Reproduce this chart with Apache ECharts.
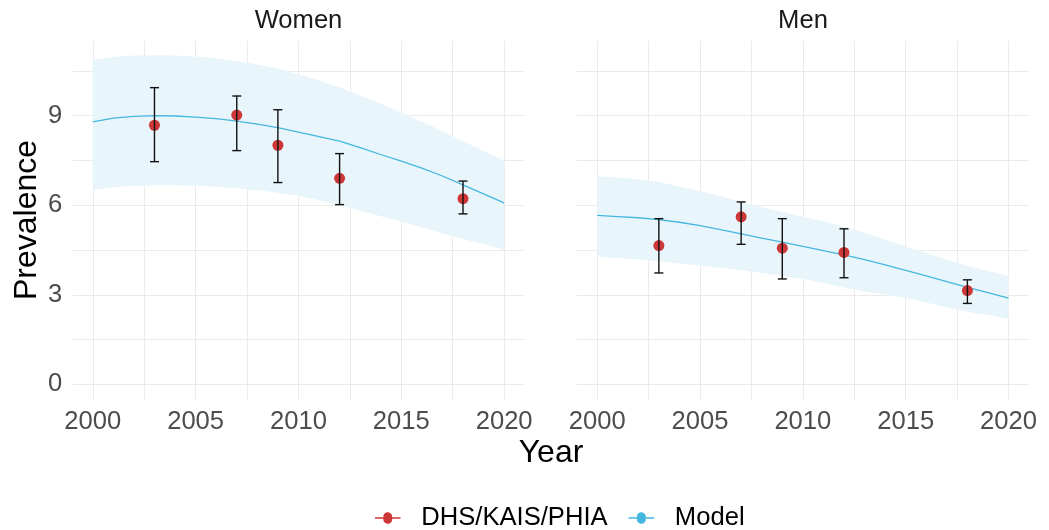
<!DOCTYPE html>
<html>
<head>
<meta charset="utf-8">
<title>Prevalence</title>
<script src="https://cdn.jsdelivr.net/npm/echarts@6/dist/echarts.min.js"></script>
<style>
	html, body { margin: 0; padding: 0; background: #fff; }
	#chart { width: 1049px; height: 530px; }
</style>
</head>
<body>
<div id="chart"></div>
<script>
// survey points (DHS/KAIS/PHIA) with 95% intervals
let surveyYears = [2003, 2007, 2009, 2012, 2018];
let womenPrev = [8.68, 9.02, 8.01, 6.90, 6.22];
let womenLow = [7.46, 7.83, 6.76, 6.02, 5.71];
let womenHigh = [9.94, 9.66, 9.20, 7.73, 6.81];
let menPrev = [4.65, 5.61, 4.56, 4.42, 3.14];
let menLow = [3.73, 4.69, 3.53, 3.57, 2.71];
let menHigh = [5.55, 6.11, 5.55, 5.21, 3.50];

// model estimate and its band
let modelYears = [2000, 2001, 2002, 2003, 2004, 2005, 2006, 2007, 2008, 2009, 2010,
	2011, 2012, 2013, 2014, 2015, 2016, 2017, 2018, 2019, 2020];
let womenModel = [8.79, 8.92, 8.98, 9.00, 8.99, 8.95, 8.90, 8.82, 8.72, 8.60, 8.45,
	8.30, 8.15, 7.93, 7.70, 7.48, 7.24, 6.98, 6.68, 6.38, 6.08];
let womenUpper = [10.87, 10.97, 11.02, 11.03, 11.02, 10.98, 10.92, 10.83, 10.72, 10.58, 10.38,
	10.18, 9.95, 9.68, 9.40, 9.10, 8.80, 8.48, 8.14, 7.82, 7.50];
let womenLower = [6.50, 6.60, 6.65, 6.67, 6.67, 6.65, 6.62, 6.57, 6.50, 6.42, 6.32,
	6.17, 6.00, 5.82, 5.63, 5.45, 5.25, 5.06, 4.87, 4.69, 4.51];
let menModel = [5.66, 5.62, 5.58, 5.52, 5.43, 5.32, 5.18, 5.04, 4.90, 4.76, 4.62,
	4.48, 4.34, 4.18, 4.00, 3.82, 3.63, 3.44, 3.25, 3.07, 2.89];
let menUpper = [6.97, 6.93, 6.87, 6.78, 6.63, 6.47, 6.30, 6.11, 5.93, 5.78, 5.61,
	5.46, 5.28, 5.08, 4.85, 4.62, 4.40, 4.18, 3.96, 3.80, 3.64];
let menLower = [4.27, 4.23, 4.18, 4.12, 4.05, 3.98, 3.90, 3.83, 3.73, 3.63, 3.53,
	3.39, 3.24, 3.11, 3.00, 2.89, 2.74, 2.58, 2.43, 2.32, 2.20];

// tick labels
let xTickLabels = [2000, 2005, 2010, 2015, 2020];
let yTickLabels = [0, 3, 6, 9];

window.onload = function() {
	let chart = echarts.init(document.getElementById('chart'));
	let font = 'Liberation Sans, Arial, sans-serif';
	let red = '#CD3737';
	let blue = '#45B7DF';
	let bandColor = '#E8F5FB';
	let gridColor = '#EBEBEB';
	let clear = 'rgba(0,0,0,0)';
	// 图例: 线 + 点
	let legendIcon = 'path://M0,9.5H6.536A3.5,3.5,0,1,1,13.464,9.5H20V10.5H13.464A3.5,3.5,0,1,1,6.536,10.5H0Z';

	function isLabel(list, v) {
		for (let i = 0; i < list.length; i++) {
			if (Math.abs(list[i] - v) < 1e-6) return true;
		}
		return false;
	}

	// ticks every 0.5 from the axis min; only every 5th (x) / 3rd (y) gets a gridline
	function xAxis(idx) {
		return {
			type: 'value', gridIndex: idx, min: 1999, max: 2021, interval: 0.5,
			axisLine: { show: false }, axisTick: { show: false },
			splitLine: { show: true, lineStyle: { color: [clear, clear, gridColor, clear, clear], width: 1 } },
			axisLabel: {
				margin: 10, color: '#4D4D4D', fontSize: 25.6, fontFamily: font,
				formatter: function(v) { return isLabel(xTickLabels, v) ? String(Math.round(v)) : ''; }
			}
		};
	}

	function yAxis(idx, showLabels) {
		return {
			type: 'value', gridIndex: idx, min: -0.5, max: 11.5, interval: 0.5,
			axisLine: { show: false }, axisTick: { show: false },
			splitLine: { show: true, lineStyle: { color: [clear, gridColor, clear], width: 1 } },
			axisLabel: {
				show: showLabels, margin: 10, color: '#4D4D4D', fontSize: 25.6, fontFamily: font,
				formatter: function(v) { return isLabel(yTickLabels, v) ? String(Math.round(v)) : ''; }
			}
		};
	}

	function bandSeries(idx, lower, upper) {
		return {
			type: 'custom', xAxisIndex: idx, yAxisIndex: idx, silent: true, z: 1,
			data: [[modelYears[0], lower[0]]],
			renderItem: function(params, api) {
				let pts = [];
				for (let i = 0; i < modelYears.length; i++) pts.push(api.coord([modelYears[i], upper[i]]));
				for (let i = modelYears.length - 1; i >= 0; i--) pts.push(api.coord([modelYears[i], lower[i]]));
				return { type: 'polygon', shape: { points: pts }, style: { fill: bandColor } };
			}
		};
	}

	function modelSeries(idx, values) {
		return {
			name: 'Model', type: 'line', xAxisIndex: idx, yAxisIndex: idx, z: 2,
			data: modelYears.map(function(y, i) { return [y, values[i]]; }),
			showSymbol: false, symbol: 'circle', color: blue,
			lineStyle: { color: blue, width: 1.3 }
		};
	}

	function pointSeries(idx, values) {
		return {
			name: 'DHS/KAIS/PHIA', type: 'scatter', xAxisIndex: idx, yAxisIndex: idx, z: 3,
			data: surveyYears.map(function(y, i) { return [y, values[i]]; }),
			symbolSize: 11, itemStyle: { color: red, opacity: 1 }
		};
	}

	function errorSeries(idx, low, high) {
		return {
			type: 'custom', xAxisIndex: idx, yAxisIndex: idx, silent: true, z: 4,
			data: surveyYears.map(function(y, i) { return [y, low[i], high[i]]; }),
			renderItem: function(params, api) {
				let top = api.coord([api.value(0), api.value(2)]);
				let bot = api.coord([api.value(0), api.value(1)]);
				let hw = 4.5;
				let st = { stroke: '#111', lineWidth: 1.4 };
				return {
					type: 'group',
					children: [
						{ type: 'line', shape: { x1: top[0], y1: top[1], x2: bot[0], y2: bot[1] }, style: st },
						{ type: 'line', shape: { x1: top[0] - hw, y1: top[1], x2: top[0] + hw, y2: top[1] }, style: st },
						{ type: 'line', shape: { x1: bot[0] - hw, y1: bot[1], x2: bot[0] + hw, y2: bot[1] }, style: st }
					]
				};
			}
		};
	}

	let option = {
		backgroundColor: '#fff',
		animation: false,
		grid: [
			{ left: 72.2, top: 41.1, width: 452.5, height: 358.1 },
			{ left: 576.6, top: 41.1, width: 452.5, height: 358.1 }
		],
		xAxis: [xAxis(0), xAxis(1)],
		yAxis: [yAxis(0, true), yAxis(1, false)],
		legend: {
			left: 370, top: 500, itemWidth: 33, itemHeight: 11.5, itemGap: 21,
			textStyle: { fontSize: 25.6, fontFamily: font, color: '#000', padding: [0, 0, 0, 12] },
			data: [
				{ name: 'DHS/KAIS/PHIA', icon: legendIcon, itemStyle: { color: red, opacity: 1 } },
				{ name: 'Model', icon: legendIcon, itemStyle: { color: blue, opacity: 1 } }
			]
		},
		graphic: [
			{ type: 'text', x: 298.5, y: 21, style: { text: 'Women', font: '25.6px ' + font, fill: '#1A1A1A', textAlign: 'center', textVerticalAlign: 'middle' } },
			{ type: 'text', x: 803, y: 21, style: { text: 'Men', font: '25.6px ' + font, fill: '#1A1A1A', textAlign: 'center', textVerticalAlign: 'middle' } },
			{ type: 'text', x: 551, y: 453, style: { text: 'Year', font: '32px ' + font, fill: '#000', textAlign: 'center', textVerticalAlign: 'middle' } },
			{ type: 'text', x: 27, y: 220, rotation: Math.PI / 2, style: { text: 'Prevalence', font: '32px ' + font, fill: '#000', textAlign: 'center', textVerticalAlign: 'middle' } }
		],
		series: [
			bandSeries(0, womenLower, womenUpper),
			bandSeries(1, menLower, menUpper),
			modelSeries(0, womenModel),
			modelSeries(1, menModel),
			pointSeries(0, womenPrev),
			pointSeries(1, menPrev),
			errorSeries(0, womenLow, womenHigh),
			errorSeries(1, menLow, menHigh)
		]
	};
	chart.setOption(option);
};
</script>
</body>
</html>
